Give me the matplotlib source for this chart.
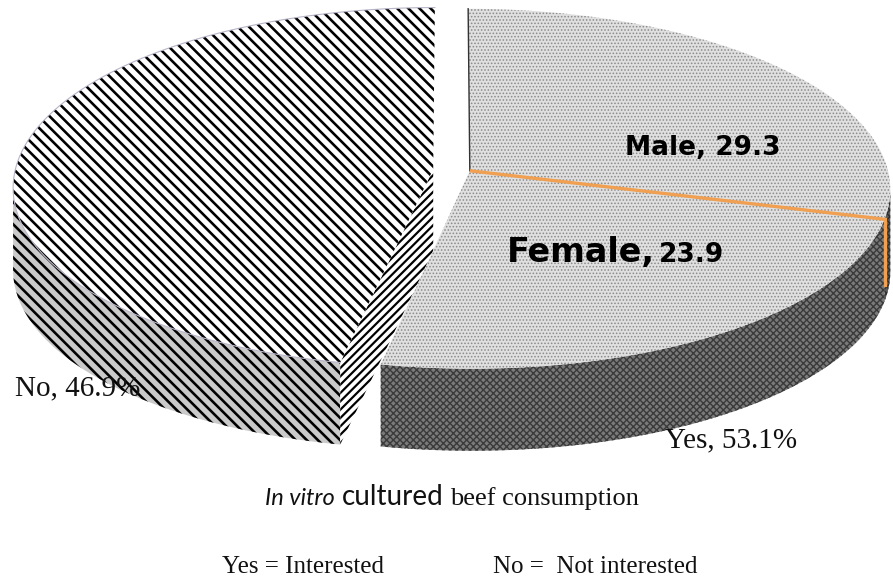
import numpy as np
import matplotlib
matplotlib.use('Agg')
import matplotlib.pyplot as plt
from matplotlib.patches import Polygon

# values (percent of all respondents)
main_labels = ['Yes', 'No']
main_pct = [53.1, 46.9]
sub_labels = ['Male', 'Female']
sub_vals = [29.3, 23.9]

W, HPX = 893, 586
DPI = 100
PX = 72 / DPI                   # one pixel in points
S, T, K = 418, 178, 0.10        # perspective: width, height, foreshortening
DEPTH = 82
X0, Y0 = 451.5, 170
EXPL = 0.044

fig = plt.figure(figsize=(W / DPI, HPX / DPI), dpi=DPI)
ax = fig.add_axes([0, 0, 1, 1])
ax.set_xlim(0, W)
ax.set_ylim(HPX, 0)
ax.axis('off')


def proj(u, v, dz=0):
    # flat pie point (u, v) with v pointing away from the viewer
    w = 1 + K * v
    return np.column_stack([X0 + S * u / w, Y0 - T * v / w + dz])


def arc(c, t0, t1, dz=0, n=200):
    t = np.radians(np.linspace(t0, t1, n))
    return proj(c[0] + np.cos(t), c[1] + np.sin(t), dz)


def centre(c, dz=0):
    return proj(np.array([c[0]]), np.array([c[1]]), dz)


def patch(pts, face, hatch=None, hcol='k', hlw_px=1.0, z=1):
    plt.rcParams['hatch.linewidth'] = hlw_px * PX
    p = Polygon(pts, closed=True, facecolor=face, edgecolor=hcol,
                linewidth=0, hatch=hatch, zorder=z)
    if hasattr(p, 'set_hatch_linewidth'):
        p.set_hatch_linewidth(hlw_px * PX)
    ax.add_patch(p)
    return p


def side(c, t0, t1):
    return np.vstack([arc(c, t0, t1), arc(c, t0, t1, DEPTH)[::-1]])


def offset(mid):
    m = np.radians(mid)
    return (EXPL * np.cos(m), EXPL * np.sin(m))


total = sum(sub_vals) + main_pct[1]
male_deg = sub_vals[0] / total * 360
fem_deg = sub_vals[1] / total * 360
no_deg = main_pct[1] / total * 360
yes_deg = male_deg + fem_deg
edge_l = 180 + np.degrees(np.arcsin(K))   # silhouette angles
edge_r = -np.degrees(np.arcsin(K))

# ---- No slice (left) ----
c_no = offset(90 + no_deg / 2)
t_end = 90 + no_deg
patch(side(c_no, edge_l, t_end), '#cacaca', '\\\\\\', 'k', 2.6, 1)
rim = arc(c_no, t_end, t_end, n=1)[0]
v = centre(c_no)[0]
face = np.array([v, rim, rim + [0, DEPTH], v + [0, DEPTH]])
patch(face, 'white', '////', 'k', 2.2, 1)
patch(np.vstack([centre(c_no), arc(c_no, 90, t_end)]), 'white', '\\\\\\', 'k', 2.6, 2)
ax.plot(*arc(c_no, 90, t_end).T, color='#b8b4c8', lw=1.1 * PX, zorder=3)

# ---- Yes slice (right) ----
c_yes = offset(90 - yes_deg / 2)
t_split = 90 - male_deg
t_yes0 = 90 - yes_deg
patch(side(c_yes, t_yes0, t_split), '#7a7a7a', 'xxxxx', '#3a3a3a', 1.4, 4)
patch(side(c_yes, t_split, edge_r), '#5a5a5a', 'xxxxx', '#2e2e2e', 1.4, 4)
patch(np.vstack([centre(c_yes), arc(c_yes, t_yes0, 90)]), '#e0e0e0', '.....', '#8a8a8a', 1.0, 5)

# radial edges
v = centre(c_yes)[0]
top_pt = arc(c_yes, 90, 90, n=1)[0]
ax.plot([v[0], top_pt[0]], [v[1], top_pt[1]], color='#333333', lw=1.4 * PX, zorder=6)
split_pt = arc(c_yes, t_split, t_split, n=1)[0]
ax.plot([v[0], split_pt[0]], [v[1], split_pt[1]], color='#f0a050', lw=3.3 * PX,
        solid_capstyle='butt', zorder=6)
ax.plot([split_pt[0], split_pt[0]], [split_pt[1], split_pt[1] + DEPTH * 0.8],
        color='#f0a050', lw=3.3 * PX, zorder=6)

# ---- labels ----
bold = dict(family='DejaVu Sans', weight='heavy', color='black', zorder=10)
ax.text(703, 148, f'{sub_labels[0]}, {sub_vals[0]}', fontsize=19, ha='center', va='center', **bold)
r = fig.canvas.get_renderer()
t1 = ax.text(507, 262, f'{sub_labels[1]},', fontsize=24, ha='left', va='baseline', **bold)
bb = t1.get_window_extent(renderer=r)
x_after = ax.transData.inverted().transform((bb.x1, bb.y0))[0]
ax.text(x_after + 4, 262, f'{sub_vals[1]}', fontsize=19, ha='left', va='baseline', **bold)

serif = dict(family='Liberation Serif', color='#111111', zorder=10)
ax.text(15, 388, f'{main_labels[1]}, {main_pct[1]}%', fontsize=21, ha='left', va='center', **serif)
ax.text(665, 440, f'{main_labels[0]}, {main_pct[0]}%', fontsize=21, ha='left', va='center', **serif)

# title made of three styled pieces
pieces = [('In vitro', dict(family='Lato', style='italic', fontsize=17)),
          ('cultured', dict(family='Lato', fontsize=20)),
          ('beef consumption', dict(family='Liberation Serif', fontsize=19))]
gap = 7
widths = []
for s, kw in pieces:
    t = ax.text(0, 0, s, **kw)
    widths.append(t.get_window_extent(renderer=r).width)
    t.remove()
x = 452 - (sum(widths) + gap * (len(pieces) - 1)) / 2
for (s, kw), w in zip(pieces, widths):
    ax.text(x, 505, s, ha='left', va='baseline', color='#111111', **kw)
    x += w + gap

ax.text(222, 567, 'Yes = Interested', fontsize=18, ha='left', va='center', **serif)
ax.text(493, 567, 'No =  Not interested', fontsize=18, ha='left', va='center', **serif)

fig.savefig('out.png', dpi=DPI)
